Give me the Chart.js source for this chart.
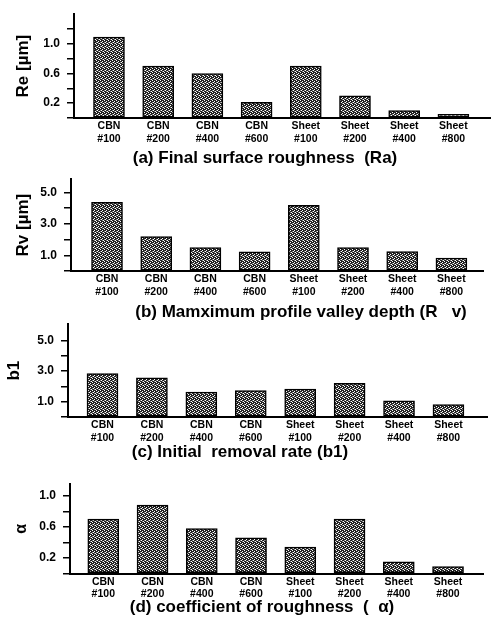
<!DOCTYPE html>
<html>
<head>
<meta charset="utf-8">
<script src="https://cdn.jsdelivr.net/npm/chart.js@4/dist/chart.umd.min.js"></script>
<style>
  body { margin: 0; background: #fff; width: 491px; height: 623px; position: relative; overflow: hidden; }
  .panel { position: absolute; left: 0; width: 491px; }
  .cap { position: absolute; width: 420px; text-align: center; white-space: pre;
         font: bold 17px "Liberation Sans", Arial, sans-serif; line-height: 20px; color: #000; }
</style>
</head>
<body>
<div class="panel" style="top:0px;height:150px"><canvas id="c-a" width="491" height="150"></canvas></div>
<div class="panel" style="top:165px;height:140px"><canvas id="c-b" width="491" height="140"></canvas></div>
<div class="panel" style="top:310px;height:140px"><canvas id="c-c" width="491" height="140"></canvas></div>
<div class="panel" style="top:470px;height:140px"><canvas id="c-d" width="491" height="140"></canvas></div>
<div class="cap" style="left:55px;top:148px">(a) Final surface roughness  (Ra)</div>
<div class="cap" style="left:91px;top:302px">(b) Mamximum profile valley depth (R   v)</div>
<div class="cap" style="left:30px;top:442px">(c) Initial  removal rate (b1)</div>
<div class="cap" style="left:52px;top:597px">(d) coefficient of roughness  (  α)</div>

<script>
// categories (two-line tick labels)
const tipos = ['CBN', 'CBN', 'CBN', 'CBN', 'Sheet', 'Sheet', 'Sheet', 'Sheet'];
const granos = ['#100', '#200', '#400', '#600', '#100', '#200', '#400', '#800'];

// values
const valoresRa = [1.09, 0.70, 0.60, 0.21, 0.70, 0.30, 0.10, 0.05];
const valoresRv = [4.37, 2.20, 1.50, 1.22, 4.19, 1.50, 1.24, 0.83];
const valoresB1 = [2.83, 2.56, 1.63, 1.73, 1.83, 2.20, 1.06, 0.81];
const valoresAlfa = [0.70, 0.88, 0.58, 0.46, 0.34, 0.70, 0.15, 0.09];

// y ticks (all drawn), and the ones that carry a label
const ticksRa = [0, 0.2, 0.4, 0.6, 0.8, 1.0, 1.2];
const etiquetasRa = [0.2, 0.6, 1.0];
const ticksRv = [0, 1, 2, 3, 4, 5];
const etiquetasRv = [1, 3, 5];
const ticksB1 = [0, 1, 2, 3, 4, 5];
const etiquetasB1 = [1, 3, 5];
const ticksAlfa = [0, 0.2, 0.4, 0.6, 0.8, 1.0];
const etiquetasAlfa = [0.2, 0.6, 1.0];

const fuente = '"Liberation Sans", Arial, sans-serif';

// stipple fill like the printed bars
function crearTrama() {
  const c = document.createElement('canvas');
  c.width = 4; c.height = 4;
  const g = c.getContext('2d');
  g.fillStyle = '#222222';
  g.fillRect(0, 0, 4, 4);
  g.fillStyle = '#ffffff';
  [[0, 0], [2, 1], [1, 2], [3, 3]].forEach(([x, y]) => g.fillRect(x, y, 1, 1));
  g.fillStyle = '#8a8a8a';
  [[2, 3], [0, 2]].forEach(([x, y]) => g.fillRect(x, y, 1, 1));
  return g.createPattern(c, 'repeat');
}
const trama = crearTrama();

function crearGrafica(id, cfg) {
  const idx = tipos.map((t, i) => i);
  new Chart(document.getElementById(id), {
    type: 'bar',
    data: {
      datasets: [{
        data: cfg.valores.map((v, i) => ({ x: i, y: v })),
        backgroundColor: trama,
        borderColor: '#000',
        borderWidth: 1.5,
        borderSkipped: false,
        barThickness: 31
      }]
    },
    options: {
      responsive: false,
      animation: false,
      layout: { padding: { top: cfg.arriba, right: cfg.derecha, left: 0, bottom: 0 } },
      plugins: { legend: { display: false }, tooltip: { enabled: false } },
      scales: {
        x: {
          type: 'linear',
          offset: false,
          min: cfg.xmin,
          max: cfg.xmax,
          afterBuildTicks: s => { s.ticks = idx.map(v => ({ value: v })); },
          afterFit: s => { s.height = cfg.altoX; },
          grid: { display: false, drawTicks: false, offset: false },
          border: { display: true, color: '#000', width: 2 },
          ticks: {
            autoSkip: false,
            maxRotation: 0,
            padding: 2,
            color: '#000',
            font: { family: fuente, size: 10.5, weight: 'bold', lineHeight: 1.2 },
            callback: v => [tipos[v], granos[v]]
          }
        },
        y: {
          min: 0,
          max: cfg.ymax,
          afterBuildTicks: s => { s.ticks = cfg.ticks.map(v => ({ value: v })); },
          afterFit: s => { s.width = cfg.ejeX; },
          grid: { drawOnChartArea: false, drawTicks: true, tickLength: 7, color: '#000', lineWidth: 1.5 },
          border: { display: true, color: '#000', width: 2 },
          ticks: {
            autoSkip: false,
            padding: 7,
            color: '#000',
            font: { family: fuente, size: 12, weight: 'bold' },
            callback: v => cfg.etiquetas.some(e => Math.abs(e - v) < 1e-6) ? v.toFixed(1) : ''
          },
          title: {
            display: true,
            text: cfg.titulo,
            color: '#000',
            font: { family: fuente, size: cfg.tamTitulo, weight: 'bold' },
            padding: { top: cfg.padTitulo, bottom: 0 }
          }
        }
      }
    }
  });
}

crearGrafica('c-a', {
  valores: valoresRa, ticks: ticksRa, etiquetas: etiquetasRa, ymax: 1.4,
  xmin: -0.711, xmax: 7.744, ejeX: 74, arriba: 7, derecha: 1, altoX: 32,
  titulo: 'Re [µm]', tamTitulo: 17, padTitulo: 13
});
crearGrafica('c-b', {
  valores: valoresRv, ticks: ticksRv, etiquetas: etiquetasRv, ymax: 5.85,
  xmin: -0.732, xmax: 7.642, ejeX: 71, arriba: 10, derecha: 8, altoX: 34,
  titulo: 'Rv [µm]', tamTitulo: 17, padTitulo: 13
});
crearGrafica('c-c', {
  valores: valoresB1, ticks: ticksB1, etiquetas: etiquetasB1, ymax: 6.06,
  xmin: -0.698, xmax: 7.78, ejeX: 68, arriba: 10, derecha: 4, altoX: 33,
  titulo: 'b1', tamTitulo: 17, padTitulo: 4
});
crearGrafica('c-d', {
  valores: valoresAlfa, ticks: ticksAlfa, etiquetas: etiquetasAlfa, ymax: 1.15,
  xmin: -0.676, xmax: 7.71, ejeX: 70, arriba: 11, derecha: 8, altoX: 36.5,
  titulo: 'α', tamTitulo: 16, padTitulo: 12
});
</script>
</body>
</html>
